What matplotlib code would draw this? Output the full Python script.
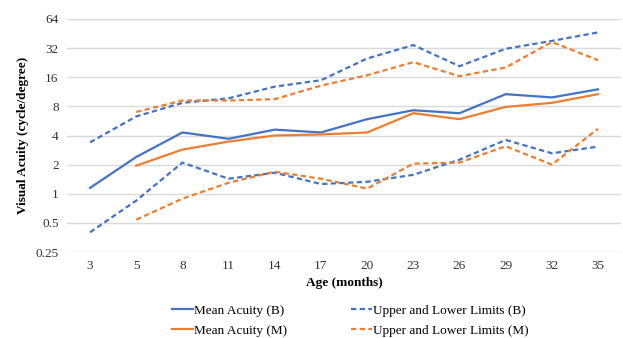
import numpy as np
import matplotlib
matplotlib.use("Agg")
from matplotlib import pyplot as plt
from matplotlib.ticker import FixedLocator, NullLocator

plt.rcParams['font.family'] = ['Liberation Serif', 'DejaVu Serif']

# ages in months
ages = [3, 5, 8, 11, 14, 17, 20, 23, 26, 29, 32, 35]

# B series
mean_b = [1.15, 2.4, 4.3, 3.7, 4.6, 4.3, 5.9, 7.3, 6.8, 10.7, 9.9, 12.0]
upper_b = [3.4, 6.3, 8.7, 9.7, 12.8, 14.9, 25.0, 34.4, 20.8, 31.5, 38.0, 46.5]
lower_b = [0.40, 0.85, 2.1, 1.43, 1.65, 1.26, 1.33, 1.57, 2.25, 3.6, 2.62, 3.07]

# M series, starts at 5 months
mean_m = [np.nan, 1.95, 2.86, 3.46, 4.0, 4.1, 4.3, 6.8, 5.9, 7.9, 8.7, 10.7]
upper_m = [np.nan, 7.0, 9.2, 9.2, 9.5, 13.1, 16.8, 22.9, 16.4, 20.2, 37.0, 24.0]
lower_m = [np.nan, 0.54, 0.89, 1.3, 1.69, 1.43, 1.13, 2.05, 2.1, 3.1, 2.0, 4.7]

yticks = [0.25, 0.5, 1, 2, 4, 8, 16, 32, 64]
ytick_labels = ["0.25", "0.5", "1", "2", "4", "8", "16", "32", "64"]

blue = "#4472C4"
orange = "#ED7D31"
fs = 9.5

fig = plt.figure(figsize=(6.23, 3.38), dpi=100)
ax = fig.add_axes([0.1075, 0.2544, 0.8895, 0.6894])

x = np.arange(len(ages))
dash = (2.4, 1.5)
ax.plot(x, mean_b, color=blue, lw=1.6, label="Mean Acuity (B)")
ax.plot(x, mean_m, color=orange, lw=1.6, label="Mean Acuity (M)")
ax.plot(x, upper_b, color=blue, lw=1.6, dashes=dash, label="Upper and Lower Limits (B)")
ax.plot(x, lower_b, color=blue, lw=1.6, dashes=dash)
ax.plot(x, upper_m, color=orange, lw=1.6, dashes=dash, label="Upper and Lower Limits (M)")
ax.plot(x, lower_m, color=orange, lw=1.6, dashes=dash)

ax.set_yscale("log")
ax.set_ylim(0.25, 64)
ax.yaxis.set_major_locator(FixedLocator(yticks))
ax.yaxis.set_minor_locator(NullLocator())
ax.set_yticklabels(ytick_labels)
ax.set_xlim(-0.5, len(ages) - 0.5)
ax.set_xticks(x)
ax.set_xticklabels([str(a) for a in ages])

ax.grid(axis="y", color="#D9D9D9", lw=1)
ax.set_axisbelow(True)
for s in ax.spines.values():
    s.set_visible(False)
ax.tick_params(length=0, labelsize=fs, colors="#333333", pad=6)

ax.set_xlabel("Age (months)", fontsize=fs, fontweight="bold", labelpad=3)
ax.set_ylabel("Visual Acuity (cycle/degree)", fontsize=fs, fontweight="bold", labelpad=5)

h, l = ax.get_legend_handles_labels()
fig.legend(h, l, ncol=2, loc="center", bbox_to_anchor=(0.562, 0.051),
           frameon=False, fontsize=fs, handlelength=1.6, handletextpad=0.1,
           columnspacing=4.8, labelspacing=0.6)

fig.savefig("out.png", dpi=100)
